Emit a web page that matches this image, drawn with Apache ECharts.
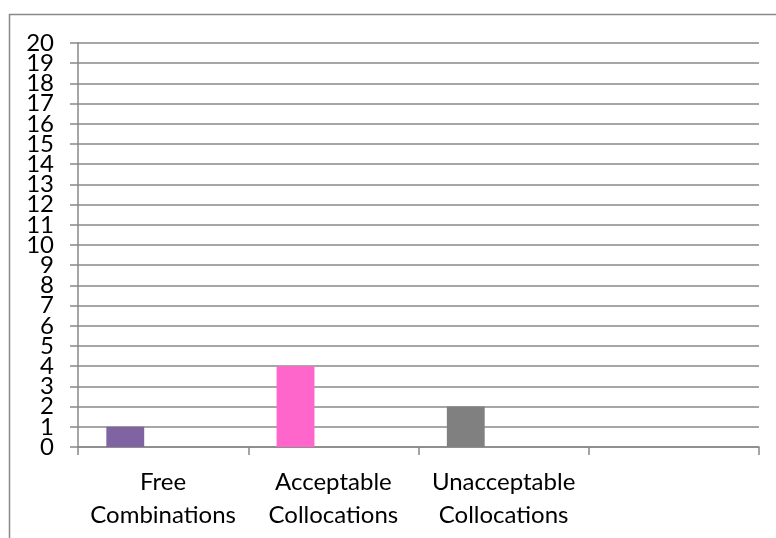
<!DOCTYPE html>
<html>
<head>
<meta charset="utf-8">
<script src="https://cdn.jsdelivr.net/npm/echarts@6/dist/echarts.min.js"></script>
<style>
  html, body { margin: 0; padding: 0; background: #fff; }
  #chart { width: 776px; height: 538px; }
</style>
</head>
<body>
<div id="chart"></div>
<script>
// Category labels (the fourth slot is left empty)
const categories = ['Free\nCombinations', 'Acceptable\nCollocations', 'Unacceptable\nCollocations', ''];
// Counts per category
const counts = [1, 4, 2, null];
// Bar colour for each category
const barColors = ['#8064A2', '#FF66CC', '#808080', '#808080'];
// Value axis range
const yMin = 0, yMax = 20, yStep = 1;
// Value-axis tick labels, split into two interleaved sets so the
// tightly packed labels are all kept
const evenTicks = [0, 2, 4, 6, 8, 10, 12, 14, 16, 18, 20];
const oddTicks = [1, 3, 5, 7, 9, 11, 13, 15, 17, 19];

const fontFamily = 'Lato, "Open Sans", sans-serif';
const axisGray = '#888888';

const chart = echarts.init(document.getElementById('chart'), null, { renderer: 'canvas' });

const yLabelStyle = { color: '#000', fontFamily: fontFamily, fontSize: 24, margin: 24 };

chart.setOption({
  animation: false,
  backgroundColor: '#ffffff',
  graphic: [{
    type: 'rect',
    shape: { x: 9.5, y: 14.5, width: 800, height: 600 },
    style: { fill: 'none', stroke: axisGray, lineWidth: 1.5 },
    silent: true,
    z: -10
  }],
  grid: { left: 78, right: 17, top: 43, bottom: 91, containLabel: false },
  xAxis: {
    type: 'category',
    data: categories,
    axisLine: { show: true, lineStyle: { color: axisGray, width: 1.5 } },
    axisTick: { show: true, length: 8, lineStyle: { color: axisGray, width: 1.5 } },
    axisLabel: {
      interval: 0, margin: 19, color: '#000', fontFamily: fontFamily,
      fontSize: 24, lineHeight: 33
    },
    splitLine: { show: false }
  },
  yAxis: [
    {
      type: 'value',
      position: 'left',
      min: yMin, max: yMax, interval: yStep,
      axisLine: { show: true, lineStyle: { color: axisGray, width: 1.5 } },
      axisTick: { show: true, length: 8, lineStyle: { color: axisGray, width: 1.5 } },
      axisLabel: Object.assign({ customValues: evenTicks }, yLabelStyle),
      splitLine: { show: true, lineStyle: { color: axisGray, width: 1.5 } }
    },
    {
      type: 'value',
      position: 'left',
      offset: 0,
      min: yMin, max: yMax, interval: yStep,
      axisLine: { show: false },
      axisTick: { show: false },
      axisLabel: Object.assign({ customValues: oddTicks }, yLabelStyle),
      splitLine: { show: false }
    }
  ],
  series: [
    {
      type: 'bar',
      yAxisIndex: 0,
      data: counts.map((v, i) => ({ value: v, itemStyle: { color: barColors[i] } })),
      barGap: '0%',
      barCategoryGap: '33.3%'
    },
    { type: 'bar', yAxisIndex: 0, data: [null, null, null, null], barGap: '0%', barCategoryGap: '33.3%' },
    { type: 'bar', yAxisIndex: 0, data: [null, null, null, null], barGap: '0%', barCategoryGap: '33.3%' }
  ]
});
</script>
</body>
</html>
